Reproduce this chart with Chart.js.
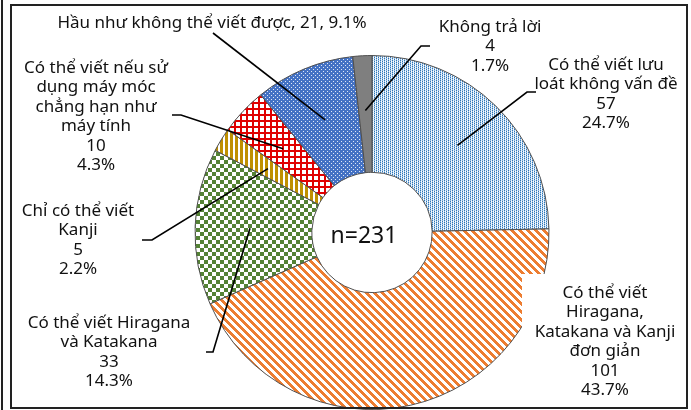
<!DOCTYPE html>
<html>
<head>
<meta charset="utf-8">
<script src="https://cdn.jsdelivr.net/npm/chart.js@4.4.1/dist/chart.umd.min.js"></script>
<style>
html,body{margin:0;padding:0;background:#fff;width:691px;height:410px;overflow:hidden;}
#wrap{position:relative;width:691px;height:410px;}
#c{position:absolute;left:0;top:0;}
#frame{position:absolute;left:10px;top:4px;width:674px;height:401px;border:2px solid #222;z-index:2;pointer-events:none;}
#edge{position:absolute;left:1px;top:0;width:2px;height:410px;background:#222;z-index:2;}
</style>
</head>
<body>
<div id="wrap">
<canvas id="c" width="691" height="410"></canvas>
<div id="frame"></div>
<div id="edge"></div>
</div>
<script>
// ---- data ----
const categories = [
  "Có thể viết lưu loát không vấn đề",
  "Có thể viết Hiragana, Katakana và Kanji đơn giản",
  "Có thể viết Hiragana và Katakana",
  "Chỉ có thể viết Kanji",
  "Có thể viết nếu sử dụng máy móc chẳng hạn như máy tính",
  "Hầu như không thể viết được",
  "Không trả lời"
];
const labelLines = [
  ["Có thể viết lưu", "loát không vấn đề"],
  ["Có thể viết", "Hiragana,", "Katakana và Kanji", "đơn giản"],
  ["Có thể viết Hiragana", "và Katakana"],
  ["Chỉ có thể viết", "Kanji"],
  ["Có thể viết nếu sử", "dụng máy móc", "chẳng hạn như", "máy tính"],
  ["Hầu như không thể viết được"],
  ["Không trả lời"]
];
const values = [57, 101, 33, 5, 10, 21, 4];
const totalN = 231;

// ---- layout (positions only) ----
const labelPos = [
  {x:606, y:65, inline:false},
  {x:605, y:293, inline:false},
  {x:109, y:323, inline:false},
  {x:78,  y:211, inline:false},
  {x:96,  y:68,  inline:false},
  {x:212, y:23,  inline:true},
  {x:490, y:27,  inline:false}
];
// leader lines: start point then elbow (null = no leader)
const leaders = [
  [[536,92],[527,92]],
  null,
  [[206,352],[213,352]],
  [[142,240],[152,240]],
  [[172,115],[181,115]],
  [[213,33]],
  [[430,46],[421,46]]
];

// ---- patterns ----
function tile(w, h, fn){
  const c = document.createElement('canvas'); c.width = w; c.height = h;
  const x = c.getContext('2d'); const img = x.createImageData(w, h);
  for(let py=0; py<h; py++) for(let px=0; px<w; px++){
    const col = fn(px, py); const i = (py*w+px)*4;
    img.data[i]=col[0]; img.data[i+1]=col[1]; img.data[i+2]=col[2]; img.data[i+3]=255;
  }
  x.putImageData(img, 0, 0);
  return document.getElementById('c').getContext('2d').createPattern(c, 'repeat');
}
const W=[255,255,255];
const pLightBlue = tile(4,4,(x,y)=>{
  if(x===0) return (y%2===0)?[46,117,182]:[157,195,230];
  if(x===2) return (y%2===1)?[46,117,182]:[157,195,230];
  return (y%2===0)?[220,234,247]:W;
});
const pOrange = tile(8,8,(x,y)=>{ const d=((x-y)%8+8)%8; return d<4?[237,125,49]:W; });
const pGreen = tile(8,8,(x,y)=>(((x>>2)+(y>>2))%2===0)?[84,130,53]:W);
const pGold = tile(5,1,(x,y)=>x<3?[191,144,0]:W);
const pRed = tile(6,6,(x,y)=>(x<2||y<2)?[224,0,0]:W);
const pBlue = tile(4,4,(x,y)=>((x===1&&y===1)||(x===3&&y===3))?[225,232,246]:[68,114,196]);
const cGray = '#7f7f7f';

const labelPlugin = {
  id:'labelPlugin',
  afterDatasetsDraw(chart){
    const ctx = chart.ctx;
    const meta = chart.getDatasetMeta(0);
    ctx.save();
    // white text box behind the large label (covers part of the ring as in the source)
    ctx.fillStyle = '#fff';
    ctx.fillRect(522, 274, 166, 136);
    // leader lines
    ctx.strokeStyle = '#000'; ctx.lineWidth = 1.6; ctx.lineJoin='miter';
    meta.data.forEach((arc, i) => {
      const L = leaders[i]; if(!L) return;
      const p = arc.getProps(['x','y','startAngle','endAngle','innerRadius','outerRadius']);
      const a = (p.startAngle + p.endAngle)/2;
      const r = p.innerRadius + 0.53*(p.outerRadius - p.innerRadius);
      ctx.beginPath();
      ctx.moveTo(L[0][0], L[0][1]);
      for(let k=1;k<L.length;k++) ctx.lineTo(L[k][0], L[k][1]);
      ctx.lineTo(p.x + r*Math.cos(a), p.y + r*Math.sin(a));
      ctx.stroke();
    });
    // labels
    ctx.fillStyle = '#111';
    ctx.font = '17px "Noto Sans", "DejaVu Sans", sans-serif';
    ctx.textAlign = 'center'; ctx.textBaseline = 'middle';
    const lh = 19.5;
    values.forEach((v, i) => {
      const pct = (v/totalN*100).toFixed(1) + '%';
      const pos = labelPos[i];
      let lines;
      if(pos.inline) lines = [labelLines[i].join(' ') + ', ' + v + ', ' + pct];
      else lines = labelLines[i].concat([String(v), pct]);
      lines.forEach((t, k) => ctx.fillText(t, pos.x, pos.y + k*lh));
    });
    // center text
    const c0 = meta.data[0];
    ctx.font = '23px "Noto Sans", "DejaVu Sans", sans-serif';
    ctx.fillText('n=' + totalN, c0.x - 8, c0.y + 4);
    ctx.restore();
  }
};

new Chart(document.getElementById('c'), {
  type:'doughnut',
  data:{
    labels: categories,
    datasets:[{
      data: values,
      backgroundColor:[pLightBlue, pOrange, pGreen, pGold, pRed, pBlue, cGray],
      borderColor:'#505050',
      borderWidth:1
    }]
  },
  options:{
    responsive:false,
    animation:false,
    cutout:'34%',
    layout:{padding:{left:194, right:141, top:55, bottom:0}},
    plugins:{legend:{display:false}, tooltip:{enabled:false}}
  },
  plugins:[labelPlugin]
});
</script>
</body>
</html>
